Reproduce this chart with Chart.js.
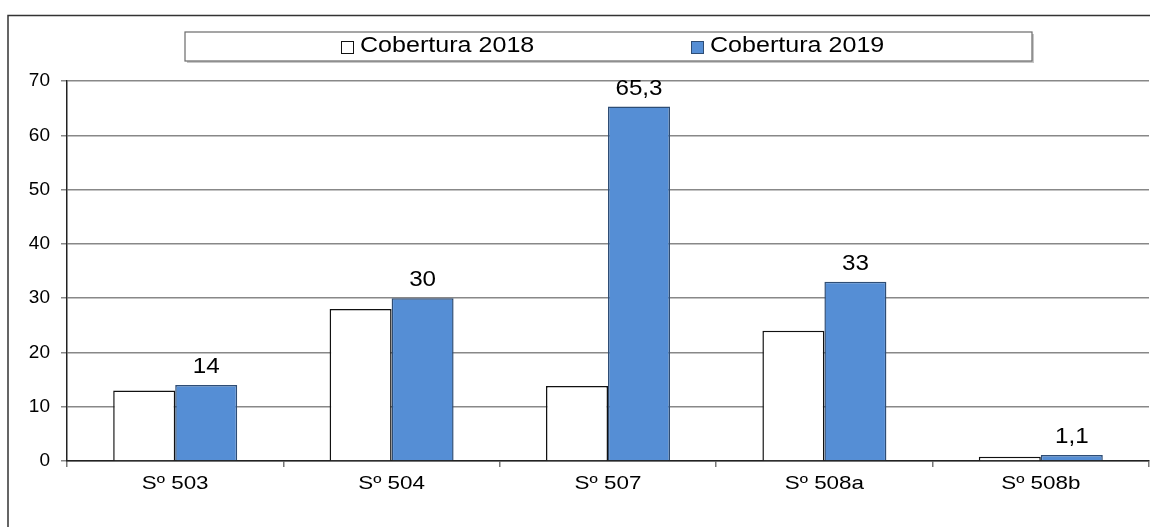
<!DOCTYPE html>
<html>
<head>
<meta charset="utf-8">
<script src="https://cdn.jsdelivr.net/npm/chart.js@4/dist/chart.umd.min.js"></script>
<style>
  html,body{margin:0;padding:0;background:#fff}
</style>
</head>
<body>
<canvas id="chartCob" width="1150" height="527"></canvas>
<script>
const categorias = ["Sº 503", "Sº 504", "Sº 507", "Sº 508a", "Sº 508b"];
const cobertura2018 = [13, 28, 13.8, 24, 0.8];
const cobertura2019 = [14, 30, 65.3, 33, 1.1];
const rotulos = ["Cobertura 2018", "Cobertura 2019"];
const FONT = "'Liberation Sans', Arial, sans-serif";

const fmt = v => String(v).replace(".", ",");

// o original tem o texto um pouco "esticado" na horizontal
function esticado(ctx, k, fn){
  const orig = ctx.fillText;
  ctx.fillText = function(t, x, y){
    this.save(); this.translate(x, y); this.scale(k, 1);
    orig.call(this, t, 0, 0);
    this.restore();
  };
  try { fn(); } finally { ctx.fillText = orig; }
}

const extras = {
  id: "extras",
  afterLayout(chart){
    const sx = chart.scales.x;
    if (sx && !sx._esticado) {
      const orig = sx.drawLabels;
      sx.drawLabels = function(area){ esticado(this.ctx, 1.18, () => orig.call(this, area)); };
      sx._esticado = true;
    }
  },
  afterDraw(chart){
    const c = chart.ctx;
    c.save();
    // moldura
    c.strokeStyle = "#333"; c.lineWidth = 1.5;
    c.beginPath(); c.moveTo(8, 527); c.lineTo(8, 15.5); c.lineTo(1150, 15.5); c.stroke();
    // legenda
    c.fillStyle = "rgba(0,0,0,0.22)"; c.fillRect(187, 34, 847, 29);
    c.fillStyle = "#fff"; c.fillRect(185, 32, 847, 29);
    c.strokeStyle = "#6a6a6a"; c.lineWidth = 1.2; c.strokeRect(185, 32, 847, 29);
    c.font = "22px " + FONT; c.textBaseline = "middle"; c.textAlign = "left";
    const xs = [341, 691];
    esticado(c, 1.14, () => {
      chart.data.datasets.forEach((ds, i) => {
        c.fillStyle = ds.backgroundColor; c.fillRect(xs[i], 41, 13, 13);
        c.strokeStyle = ds.borderColor; c.lineWidth = 1; c.strokeRect(xs[i]+0.5, 41.5, 12, 12);
        c.fillStyle = "#000"; c.fillText(ds.label, xs[i] + 19, 46);
      });
    });
    // valores 2019
    const meta = chart.getDatasetMeta(1);
    c.font = "22px " + FONT; c.textAlign = "center"; c.textBaseline = "alphabetic"; c.fillStyle = "#000";
    esticado(c, 1.1, () => {
      meta.data.forEach((bar, i) => c.fillText(fmt(cobertura2019[i]), bar.x, bar.y - 12));
    });
    c.restore();
  }
};

new Chart(document.getElementById("chartCob"), {
  type: "bar",
  data: {
    labels: categorias,
    datasets: [
      { label: rotulos[0], data: cobertura2018, backgroundColor: "#ffffff", borderColor: "#111", borderWidth: 1.5 },
      { label: rotulos[1], data: cobertura2019, backgroundColor: "#558ed5", borderColor: "#2e4d75", borderWidth: 1.5 }
    ]
  },
  options: {
    responsive: false, animation: false,
    layout: { padding: { top: 81, right: 1, left: 0, bottom: 0 } },
    datasets: { bar: { categoryPercentage: 0.573, barPercentage: 1 } },
    plugins: { legend: { display: false }, tooltip: { enabled: false } },
    scales: {
      x: {
        afterFit: s => { s.height = 66; },
        grid: { drawOnChartArea: false, offset: true, tickLength: 6, color: "#777", lineWidth: 1.5 },
        border: { color: "#222", width: 1.5 },
        ticks: { autoSkip: false, maxRotation: 0, color: "#000", font: { family: FONT, size: 19 }, padding: 5 }
      },
      y: {
        min: 0, max: 70,
        afterFit: s => { s.width = 67; },
        grid: { color: "#888", lineWidth: 1.5, tickLength: 6 },
        border: { color: "#222", width: 1.5 },
        ticks: { stepSize: 10, color: "#000", font: { family: FONT, size: 19 }, padding: 11 }
      }
    }
  },
  plugins: [extras]
});
</script>
</body>
</html>
